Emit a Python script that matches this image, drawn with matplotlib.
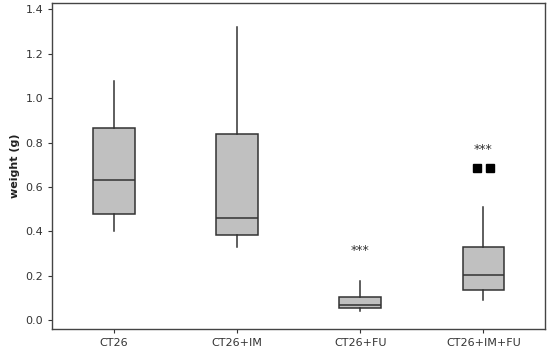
import matplotlib
matplotlib.use("Agg")
import matplotlib.pyplot as plt

groups = ["CT26", "CT26+IM", "CT26+FU", "CT26+IM+FU"]
whislo = [0.40, 0.33, 0.04, 0.09]
q1 = [0.48, 0.385, 0.055, 0.135]
med = [0.63, 0.46, 0.07, 0.205]
q3 = [0.865, 0.84, 0.105, 0.33]
whishi = [1.08, 1.32, 0.175, 0.51]
outliers = [[], [], [], [0.685, 0.685]]
stars = ["", "", "***", "***"]
star_y = [None, None, 0.315, 0.77]

stats = []
for i, g in enumerate(groups):
    stats.append(dict(label=g, whislo=whislo[i], q1=q1[i], med=med[i],
                      q3=q3[i], whishi=whishi[i], fliers=[]))

fig = plt.figure(figsize=(5.5, 3.52), dpi=100)
ax = fig.add_axes([0.095, 0.065, 0.896, 0.927])

ax.bxp(stats, positions=range(len(groups)), widths=0.34, patch_artist=True,
       showcaps=False,
       boxprops=dict(facecolor="#c0c0c0", edgecolor="#333333", linewidth=1.1),
       medianprops=dict(color="#333333", linewidth=1.1),
       whiskerprops=dict(color="#333333", linewidth=1.1))

# outliers sit side by side (jittered)
for i, vals in enumerate(outliers):
    n = len(vals)
    for j, v in enumerate(vals):
        dx = (j - (n - 1) / 2) * 0.1
        ax.plot(i + dx, v, marker="s", color="black", markersize=6,
                linestyle="none")

for i, s in enumerate(stars):
    if s:
        ax.text(i, star_y[i], s, ha="center", va="center", fontsize=9,
                color="#333333")

ax.set_xlim(-0.5, 3.5)
ax.set_ylim(-0.04, 1.43)
ax.set_yticks([0.0, 0.2, 0.4, 0.6, 0.8, 1.0, 1.2, 1.4])
ax.set_yticklabels(["0.0", "0.2", "0.4", "0.6", "0.8", "1.0", "1.2", "1.4"])
ax.set_xticks(range(len(groups)))
ax.set_xticklabels(groups)
ax.tick_params(labelsize=8, colors="#333333", length=3, width=0.8)
ax.set_ylabel("weight (g)", fontsize=8, fontweight="bold", color="#222222")
for sp in ax.spines.values():
    sp.set_color("#444444")
    sp.set_linewidth(1.0)

fig.savefig("out.png", dpi=100)
